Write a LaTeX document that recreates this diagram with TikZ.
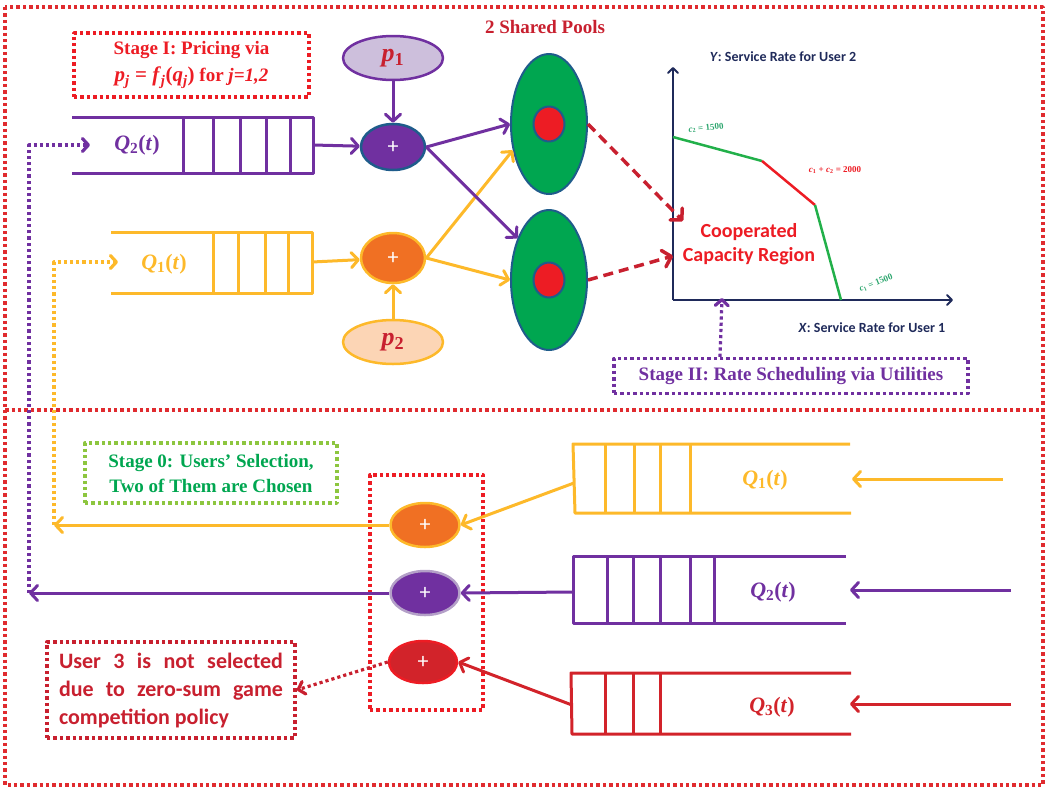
\documentclass[tikz,border=0pt]{standalone}
\usepackage{fontspec}
\setmainfont{Liberation Serif}
\newfontfamily\carl{Carlito}
\usetikzlibrary{arrows.meta,shapes.geometric}
\newcommand{\qq}[2]{\textbf{\textit{#1}\textsubscript{#2}(\textit{t})}}
\newcommand{\pp}[1]{\textbf{\textit{p}\textsubscript{#1}}}
\definecolor{qpurple}{HTML}{7030A0}
\definecolor{qgold}{HTML}{FDB92A}
\definecolor{qorange}{HTML}{F07023}
\definecolor{qred}{HTML}{ED1C24}
\definecolor{dred}{HTML}{C8202F}
\definecolor{framered}{HTML}{E02B2F}
\definecolor{qgreen}{HTML}{00A650}
\definecolor{lgreen}{HTML}{8DC63F}
\definecolor{pblue}{HTML}{1F5C8B}
\definecolor{navy}{HTML}{1F2A5A}
\definecolor{lav}{HTML}{CDBFDC}
\definecolor{lavb}{HTML}{B4A0C8}
\definecolor{peach}{HTML}{FCD5B5}
\definecolor{bred}{HTML}{D2232A}
\definecolor{cgreen}{HTML}{22B04A}
\definecolor{tgreen}{HTML}{2DA66E}
\begin{document}
\begin{tikzpicture}[x=1pt,y=-1pt,line join=round,
 dotbox/.style={line width=3.4pt,dash pattern=on 3.4pt off 3pt},
 qline/.style={line width=3pt},
 arr/.style={line width=3pt,-{Straight Barb[length=7pt,width=15pt,round]}},
 dotarr/.style={line width=3.2pt,dash pattern=on 3.2pt off 3pt,-{Straight Barb[length=6pt,width=13pt,round]}},
 dasharr/.style={dred,line width=3.5pt,dash pattern=on 10pt off 6pt,-{Straight Barb[length=8pt,width=17pt,round]}},
 axisarr/.style={navy,line width=2pt,-{Straight Barb[length=5pt,width=10pt,round]}},
 pool/.style={ellipse,draw=pblue,fill=qgreen,line width=2pt,minimum width=76pt,minimum height=140pt,inner sep=0pt},
 core/.style={ellipse,draw=pblue,fill=qred,line width=2pt,minimum width=31pt,minimum height=35pt,inner sep=0pt},
 plus/.style={ellipse,line width=2.5pt,minimum width=64pt,minimum height=46pt,inner sep=0pt,text=white,font=\fontsize{22}{22}\selectfont\carl},
 price/.style={ellipse,line width=2.5pt,minimum width=100pt,minimum height=44pt,inner sep=0pt,text=dred,font=\fontsize{26}{26}\selectfont},
 stagefont/.style={font=\fontsize{19}{25}\selectfont\bfseries},
 qlab/.style={font=\fontsize{22}{26}\selectfont},
 axlab/.style={text=navy,font=\fontsize{14}{14}\selectfont\carl\bfseries},
 clab/.style={font=\fontsize{9}{9}\selectfont\bfseries}
]
\useasboundingbox (0,0) rectangle (1049,788);
% frames
\draw[dotbox,framered] (5,7) rectangle (1043,410);
\draw[dotbox,framered] (5,410) rectangle (1043,785);

% ===== top section =====
\node[dotbox,draw=qred,minimum width=235pt,minimum height=64pt,align=center,text=qred,stagefont] (stageI) at (191.5,65)
 {Stage I: Pricing via\\[2pt]{\fontsize{21}{25}\selectfont\textit{p}\textsubscript{\textit{j}} = \textit{f}\textsubscript{\textit{j}}(\textit{q}\textsubscript{\textit{j}})} for \textit{j=1,2}};
\node[text=dred,stagefont] (shared) at (545,27) {2 Shared Pools};

% top Q2 queue
\draw[qline,qpurple] (72,117) -- (313,117) -- (313,173) -- (72,173);
\foreach \x in {183,213,240,266,290} \draw[qline,qpurple] (\x,117) -- (\x,173);
\node[qlab,text=qpurple] (tq2) at (137,145) {\qq{Q}{2}};
\coordinate (tq2out) at (313,145);
\coordinate (tq2in) at (90,145);

% top Q1 queue
\draw[qline,qgold] (111,232) -- (312,232) -- (312,293) -- (111,293);
\foreach \x in {213,238,265,288} \draw[qline,qgold] (\x,232) -- (\x,293);
\node[qlab,text=qgold] (tq1) at (164,264) {\qq{Q}{1}};
\coordinate (tq1out) at (312,262);
\coordinate (tq1in) at (118,262);

% prices and adders
\node[price,draw=qpurple,fill=lav] (p1) at (393,58) {\pp{1}};
\node[plus,draw=pblue,fill=qpurple] (plusA) at (393,147) {+};
\node[plus,draw=qgold,fill=qorange,minimum height=50pt] (plusB) at (393,258) {+};
\node[price,draw=qgold,fill=peach] (p2) at (393,342) {\pp{2}};

% pools
\node[pool] (pool1) at (549,124) {};
\node[core] (core1) at (549,124) {};
\node[pool] (pool2) at (549,280) {};
\node[core] (core2) at (549,280) {};

\draw[arr,qpurple] (p1) -- (plusA);
\draw[arr,qgold] (p2) -- (plusB);
\draw[arr,qpurple] (tq2out) -- (plusA);
\draw[arr,qgold] (tq1out) -- (plusB);
\draw[arr,qpurple] (plusA.east) -- (pool1.west);
\draw[arr,qgold] (plusB.east) -- (pool1.216);
\draw[arr,qpurple] (plusA.east) -- (pool2.127);
\draw[arr,qgold] (plusB.east) -- (pool2.west);

% chart
\coordinate (O) at (673,300);
\coordinate (ytop) at (673,67);
\coordinate (xend) at (953,300);
\draw[axisarr] (O) -- (ytop);
\draw[axisarr] (O) -- (xend);
\coordinate (k1) at (673,137);
\coordinate (k2) at (762,161);
\coordinate (k3) at (815,205);
\coordinate (k4) at (841,300);
\draw[cgreen,line width=2.5pt] (k1) -- (k2);
\draw[qred,line width=2.5pt] (k2) -- (k3);
\draw[cgreen,line width=2.5pt] (k3) -- (k4);
\node[clab,text=tgreen,rotate=6] (c2) at (706,128) {\textit{c}\textsubscript{2} = 1500};
\node[clab,text=qred] (c12) at (835,170) {\textit{c}\textsubscript{1} + \textit{c}\textsubscript{2} = 2000};
\node[clab,text=tgreen,rotate=22] (c1) at (876,283) {\textit{c}\textsubscript{1} = 1500};
\node[axlab] (ylab) at (783,57) {\textit{Y}: Service Rate for User 2};
\node[axlab] (xlab) at (872,328) {\textit{X}: Service Rate for User 1};
\node[text=qred,font=\fontsize{20}{24}\selectfont\carl\bfseries,align=center] (ccr) at (749,244) {Cooperated\\Capacity Region};
\coordinate (ccr1) at (683,221);
\coordinate (ccr2) at (673,256);
\draw[dasharr] (pool1.east) -- (ccr1);
\draw[dasharr] (pool2.east) -- (ccr2);

\node[dotbox,draw=qpurple,text=qpurple,stagefont,minimum width=354pt,minimum height=35pt] (stageII) at (791,376) {Stage II: Rate Scheduling via Utilities};
\coordinate (xtick) at (722,298);
\draw[dotarr,qpurple] ([xshift=-71pt]stageII.north) -- (xtick);

% ===== bottom section =====
\node[dotbox,draw=lgreen,text=qgreen,stagefont,align=center,minimum width=252pt,minimum height=60pt] (stage0) at (211,473)
 {Stage 0: Users’ Selection,\\Two of Them are Chosen};
\node[dotbox,draw=qred,minimum width=113pt,minimum height=235pt] (selbox) at (426.5,592.5) {};

\node[plus,draw=qgold,fill=qorange,minimum width=69pt,minimum height=44pt] (bplusY) at (425,525) {+};
\node[plus,draw=lavb,fill=qpurple,minimum width=69pt,minimum height=44pt] (bplusP) at (425,593) {+};
\node[plus,draw=qred,fill=bred,minimum width=68pt,minimum height=42pt] (bplusR) at (423,662) {+};

% bottom Q1
\draw[qline,qgold] (850,444) -- (573,444) -- (575,513) -- (851,513);
\foreach \x in {605,634,660,690} \draw[qline,qgold] (\x,444) -- (\x,513);
\node[qlab,text=qgold] (bq1) at (765,480) {\qq{Q}{1}};
% bottom Q2
\draw[qline,qpurple] (846,556) -- (573,556) -- (573,623) -- (846,623);
\foreach \x in {607,633,660,690,714} \draw[qline,qpurple] (\x,556) -- (\x,623);
\node[qlab,text=qpurple] (bq2) at (773,592) {\qq{Q}{2}};
% bottom Q3
\draw[qline,bred] (851,673) -- (571,673) -- (572,734) -- (851,734);
\foreach \x in {605,633,660} \draw[qline,bred] (\x,673) -- (\x,734);
\node[qlab,text=bred] (bq3) at (772,707) {\qq{Q}{3}};

\coordinate (bq1out) at (574,483);
\coordinate (bq2out) at (573,592);
\coordinate (bq3out) at (572,705);
\coordinate (in1s) at (1003,479);
\coordinate (in1e) at (852,479);
\coordinate (in2s) at (1011,590);
\coordinate (in2e) at (850,590);
\coordinate (in3s) at (1011,704);
\coordinate (in3e) at (850,704);
\draw[arr,qgold] (in1s) -- (in1e);
\draw[arr,qpurple] (in2s) -- (in2e);
\draw[arr,bred] (in3s) -- (in3e);

\draw[arr,qgold] (bq1out) -- (bplusY.east);
\draw[arr,qpurple] (bq2out) -- (bplusP.east);
\draw[arr,bred] (bq3out) -- (bplusR.east);

\coordinate (ycorner) at (54,525);
\coordinate (pcorner) at (29,593);
\draw[arr,qgold] (bplusY.west) -- (ycorner);
\draw[arr,qpurple] (bplusP.west) -- (pcorner);
\draw[dotarr,qgold] (ycorner) |- (tq1in);
\draw[dotarr,qpurple] (pcorner) |- (tq2in);

\node[dotbox,draw=dred,text=dred,minimum width=248pt,minimum height=96pt,align=left,font=\fontsize{22}{28}\selectfont\carl\bfseries] (user3) at (171,690)
 {\makebox[224pt][s]{User 3 is not selected}\\\makebox[224pt][s]{due to zero-sum game}\\\makebox[224pt][l]{competition policy}};
\draw[dotarr,dred] (bplusR.west) -- (user3.east);
\end{tikzpicture}
\end{document}
